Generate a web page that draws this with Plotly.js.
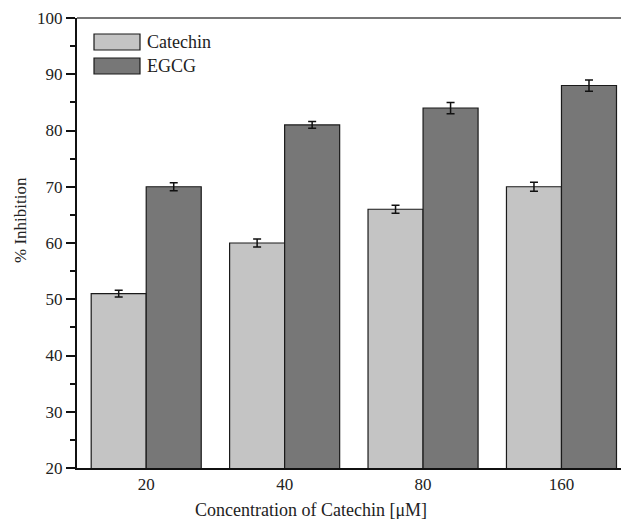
<!DOCTYPE html>
<html>
<head>
<meta charset="utf-8">
<script src="https://cdn.plot.ly/plotly-3.0.1.min.js"></script>
<style>html,body{margin:0;padding:0;background:#fff;}#chart{width:621px;height:519px;}</style>
</head>
<body>
<div id="chart"></div>
<script>
const categories = ["20", "40", "80", "160"];
const catechinValues = [51, 60, 66, 70];
const catechinErrors = [0.6, 0.7, 0.7, 0.8];
const egcgValues = [70, 81, 84, 88];
const egcgErrors = [0.7, 0.6, 1.0, 1.0];
const seriesNames = ["Catechin", "EGCG"];
const yTickValues = [20, 30, 40, 50, 60, 70, 80, 90, 100];

const FONT = "Liberation Serif, Times New Roman, serif";
const colors = ["#c4c4c4", "#777777"];

const traces = [
  {
    type: "bar", name: seriesNames[0], x: categories, y: catechinValues,
    marker: {color: colors[0], line: {color: "#1a1a1a", width: 1.2}},
    error_y: {type: "data", array: catechinErrors, visible: true, color: "#111", thickness: 1.5, width: 4}
  },
  {
    type: "bar", name: seriesNames[1], x: categories, y: egcgValues,
    marker: {color: colors[1], line: {color: "#1a1a1a", width: 1.2}},
    error_y: {type: "data", array: egcgErrors, visible: true, color: "#111", thickness: 1.5, width: 4}
  }
];

// paper coords helpers for plot area 77..621 x 18..468
const px = v => (v - 77) / 544;
const py = v => (468 - v) / 450;

const layout = {
  width: 621, height: 519,
  margin: {l: 77, r: 0, t: 18, b: 51},
  paper_bgcolor: "#fff", plot_bgcolor: "#fff",
  showlegend: false,
  barmode: "group", bargap: 0.205, bargroupgap: 0,
  font: {family: FONT, size: 17, color: "#222"},
  xaxis: {
    type: "category", range: [-0.5, 3.43],
    showline: true, linecolor: "#111", linewidth: 2,
    ticks: "", showgrid: false, zeroline: false,
    tickfont: {family: FONT, size: 17, color: "#222"}
  },
  yaxis: {
    range: [20, 100], tickvals: yTickValues,
    showline: true, linecolor: "#111", linewidth: 2,
    ticks: "outside", ticklen: 9, tickwidth: 2, tickcolor: "#111",
    minor: {dtick: 5, ticks: "outside", ticklen: 5, tickwidth: 2, tickcolor: "#111", showgrid: false},
    showgrid: false, zeroline: false,
    tickfont: {family: FONT, size: 17, color: "#222"}
  },
  shapes: [
    {type: "line", xref: "paper", yref: "paper", x0: 0, x1: 1, y0: 1, y1: 1, line: {color: "#777", width: 2}},
    {type: "rect", xref: "paper", yref: "paper", x0: px(94), x1: px(140), y0: py(50), y1: py(34), fillcolor: colors[0], line: {color: "#1a1a1a", width: 1.2}},
    {type: "rect", xref: "paper", yref: "paper", x0: px(94), x1: px(140), y0: py(74), y1: py(58), fillcolor: colors[1], line: {color: "#1a1a1a", width: 1.2}}
  ],
  annotations: [
    {xref: "paper", yref: "paper", x: px(145), y: py(42), xanchor: "left", yanchor: "middle", text: seriesNames[0], showarrow: false, font: {family: FONT, size: 18, color: "#222"}},
    {xref: "paper", yref: "paper", x: px(145), y: py(66), xanchor: "left", yanchor: "middle", text: seriesNames[1], showarrow: false, font: {family: FONT, size: 18, color: "#222"}},
    {xref: "paper", yref: "paper", x: px(20), y: py(220), xanchor: "center", yanchor: "middle", textangle: -90, text: "% Inhibition", showarrow: false, font: {family: FONT, size: 17, color: "#222"}},
    {xref: "paper", yref: "paper", x: px(311), y: py(510), xanchor: "center", yanchor: "middle", text: "Concentration of Catechin [μM]", showarrow: false, font: {family: FONT, size: 18, color: "#222"}}
  ]
};

Plotly.newPlot("chart", traces, layout, {displayModeBar: false, staticPlot: true});
</script>
</body>
</html>
